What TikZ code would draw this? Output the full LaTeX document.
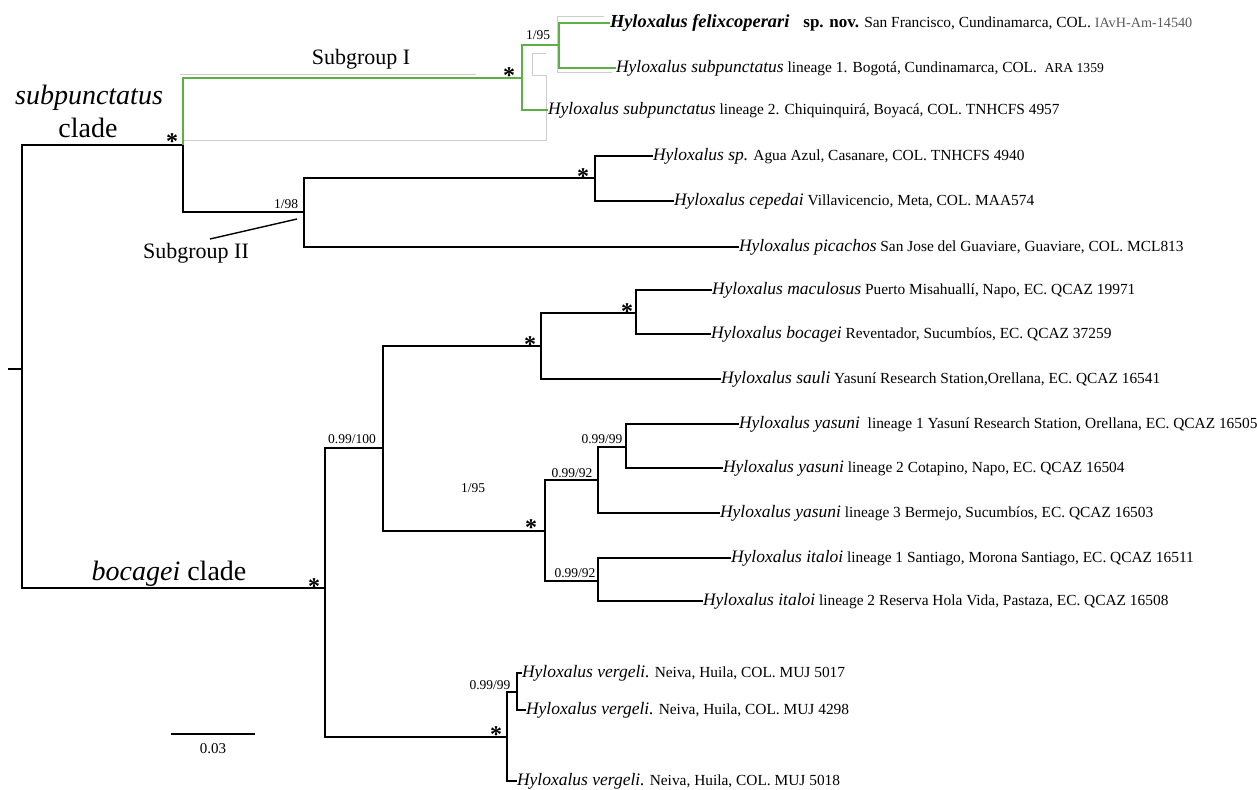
\documentclass[tikz,border=0pt]{standalone}
\usepackage{fontspec}
\setmainfont{Liberation Serif}
\definecolor{brgreen}{RGB}{95,175,70}
\definecolor{boxgray}{RGB}{205,205,205}
\definecolor{idgray}{RGB}{90,90,90}
\newcommand{\tx}[2]{{\fontsize{17.5}{19}\selectfont\itshape #1}{\fontsize{15.4}{16}\selectfont\space #2}}
\tikzset{
  br/.style={line width=2.4pt, black, line join=miter},
  gb/.style={line width=2pt, brgreen, line join=miter},
  taxon/.style={anchor=west, inner sep=0pt, outer sep=0pt},
  supp/.style={font=\fontsize{13.5}{14}\selectfont, inner sep=0pt, anchor=base},
  starlbl/.style={font=\fontsize{24}{24}\selectfont\bfseries, inner sep=0pt, anchor=base},
  grp/.style={font=\fontsize{22}{24}\selectfont, inner sep=0pt, anchor=base},
  cladelbl/.style={font=\fontsize{28}{30}\selectfont, inner sep=0pt, anchor=base},
  ghost/.style={line width=0.9pt, boxgray},
}
\begin{document}
\begin{tikzpicture}[x=1pt,y=-1pt]
\useasboundingbox (0,0) rectangle (1257,789);

% ghost highlight outline
\draw[ghost] (180,74) -- (476,74);
\draw[ghost] (183,140) -- (546,140) -- (546,75) -- (532,75) -- (532,53) -- (546,53);
\draw[ghost] (557,72) -- (557,16) -- (604,16);
\draw[ghost] (557,72) -- (612,72);

% internal node coordinates
\coordinate (rootT) at (8,369);
\coordinate (R) at (22,369);
\coordinate (S) at (183,145);
\coordinate (SI) at (522,78);
\coordinate (F) at (559,45);
\coordinate (SII) at (304,212);
\coordinate (A) at (595,178);
\coordinate (B) at (325,588);
\coordinate (C) at (383,448);
\coordinate (D) at (541,346);
\coordinate (G) at (636,313);
\coordinate (E) at (545,531);
\coordinate (H) at (598,480);
\coordinate (J) at (626,447);
\coordinate (I) at (598,581);
\coordinate (V) at (507,737);
\coordinate (V2) at (517,692);

% leaves
\node[taxon] (felix) at (610,23) {{\fontsize{18.4}{19}\selectfont\bfseries\itshape Hyloxalus felixcoperari}\hspace{14pt}{\fontsize{17}{18}\selectfont\bfseries sp. nov.}{\fontsize{15.4}{16}\selectfont\space San Francisco, Cundinamarca, COL.\space}{\fontsize{14.2}{15}\selectfont\color{idgray}IAvH-Am-14540}};
\node[taxon] (lin1) at (616,68) {\tx{Hyloxalus subpunctatus}{lineage 1. Bogotá, Cundinamarca, COL.\ \ {\fontsize{13.6}{15}\selectfont ARA 1359}}};
\node[taxon] (lin2) at (548,110) {\tx{Hyloxalus subpunctatus}{lineage 2. Chiquinquirá, Boyacá, COL. TNHCFS 4957}};
\node[taxon] (hsp) at (653,156) {\tx{Hyloxalus sp.}{Agua Azul, Casanare, COL. TNHCFS 4940}};
\node[taxon] (cep) at (674,201) {\tx{Hyloxalus cepedai}{Villavicencio, Meta, COL. MAA574}};
\node[taxon] (pic) at (739,247) {\tx{Hyloxalus picachos}{San Jose del Guaviare, Guaviare, COL. MCL813}};
\node[taxon] (mac) at (712,290) {\tx{Hyloxalus maculosus}{Puerto Misahuallí, Napo, EC. QCAZ 19971}};
\node[taxon] (boc) at (711,334) {\tx{Hyloxalus bocagei}{Reventador, Sucumbíos, EC. QCAZ 37259}};
\node[taxon] (sau) at (721,379) {\tx{Hyloxalus sauli}{Yasuní Research Station,Orellana, EC. QCAZ 16541}};
\node[taxon] (yas1) at (739,424) {\tx{Hyloxalus yasuni}{\ lineage 1 Yasuní Research Station, Orellana, EC. QCAZ 16505}};
\node[taxon] (yas2) at (723,468) {\tx{Hyloxalus yasuni}{lineage 2 Cotapino, Napo, EC. QCAZ 16504}};
\node[taxon] (yas3) at (720,513) {\tx{Hyloxalus yasuni}{lineage 3 Bermejo, Sucumbíos, EC. QCAZ 16503}};
\node[taxon] (ita1) at (731,558) {\tx{Hyloxalus italoi}{lineage 1 Santiago, Morona Santiago, EC. QCAZ 16511}};
\node[taxon] (ita2) at (703,601) {\tx{Hyloxalus italoi}{lineage 2 Reserva Hola Vida, Pastaza, EC. QCAZ 16508}};
\node[taxon] (ver1) at (522,673) {\tx{Hyloxalus vergeli.}{Neiva, Huila, COL. MUJ 5017}};
\node[taxon] (ver2) at (526,710) {\tx{Hyloxalus vergeli.}{Neiva, Huila, COL. MUJ 4298}};
\node[taxon] (ver3) at (517,781) {\tx{Hyloxalus vergeli.}{Neiva, Huila, COL. MUJ 5018}};

% branches
\draw[br] (rootT) -- (R);
\draw[br] (R) |- (S);
\draw[br] (R) |- (B);
\draw[gb] (S) |- (SI);
\draw[br] (S) |- (SII);
\draw[gb] (SI) |- (F);
\draw[gb] (SI) |- (lin2.west);
\draw[gb] (F) |- (felix.west);
\draw[gb] (F) |- (lin1.west);
\draw[br] (SII) |- (A);
\draw[br] (SII) |- (pic.west);
\draw[br] (A) |- (hsp.west);
\draw[br] (A) |- (cep.west);
\draw[br] (B) |- (C);
\draw[br] (B) |- (V);
\draw[br] (C) |- (D);
\draw[br] (C) |- (E);
\draw[br] (D) |- (G);
\draw[br] (D) |- (sau.west);
\draw[br] (G) |- (mac.west);
\draw[br] (G) |- (boc.west);
\draw[br] (E) |- (H);
\draw[br] (E) |- (I);
\draw[br] (H) |- (J);
\draw[br] (H) |- (yas3.west);
\draw[br] (J) |- (yas1.west);
\draw[br] (J) |- (yas2.west);
\draw[br] (I) |- (ita1.west);
\draw[br] (I) |- (ita2.west);
\draw[br] (V) |- (V2);
\draw[br] (V) |- (ver3.west);
\draw[br] (V2) |- (ver1.west);
\draw[br] (V2) |- (ver2.west);

% stars
\node[starlbl] (stS) at (172,149) {*};
\node[starlbl] (stSI) at (509,84) {*};
\node[starlbl] (stA) at (583,184) {*};
\node[starlbl] (stG) at (627,319) {*};
\node[starlbl] (stD) at (530,352) {*};
\node[starlbl] (stE) at (531,535) {*};
\node[starlbl] (stB) at (314,594) {*};
\node[starlbl] (stV) at (496,742) {*};

% support values
\node[supp] (s1) at (538,40) {1/95};
\node[supp] (s2) at (286,208) {1/98};
\node[supp] (s3) at (352,443) {0.99/100};
\node[supp] (s4) at (602,443) {0.99/99};
\node[supp] (s5) at (572,477) {0.99/92};
\node[supp] (s6) at (473,492) {1/95};
\node[supp] (s7) at (575,577) {0.99/92};
\node[supp] (s8) at (490,689) {0.99/99};

% group labels
\node[cladelbl] (subl) at (89,105) {\itshape subpunctatus};
\node[cladelbl] (subc) at (88,138) {clade};
\node[cladelbl] (bocl) at (169,580) {\textit{bocagei} clade};
\node[grp] (sg1) at (361,65) {Subgroup I};
\node[grp] (sg2) at (196,258) {Subgroup II};
\coordinate (sg2a) at (210,239);
\coordinate (sg2b) at (297,219);
\draw[line width=1.4pt] (sg2a) -- (sg2b);

% scale bar
\coordinate (sbL) at (171,734);
\coordinate (sbR) at (255,734);
\draw[line width=2pt] (sbL) -- (sbR);
\node[font=\fontsize{15}{16}\selectfont, inner sep=0pt, anchor=base] (sbl) at (213,753) {0.03};
\end{tikzpicture}
\end{document}
